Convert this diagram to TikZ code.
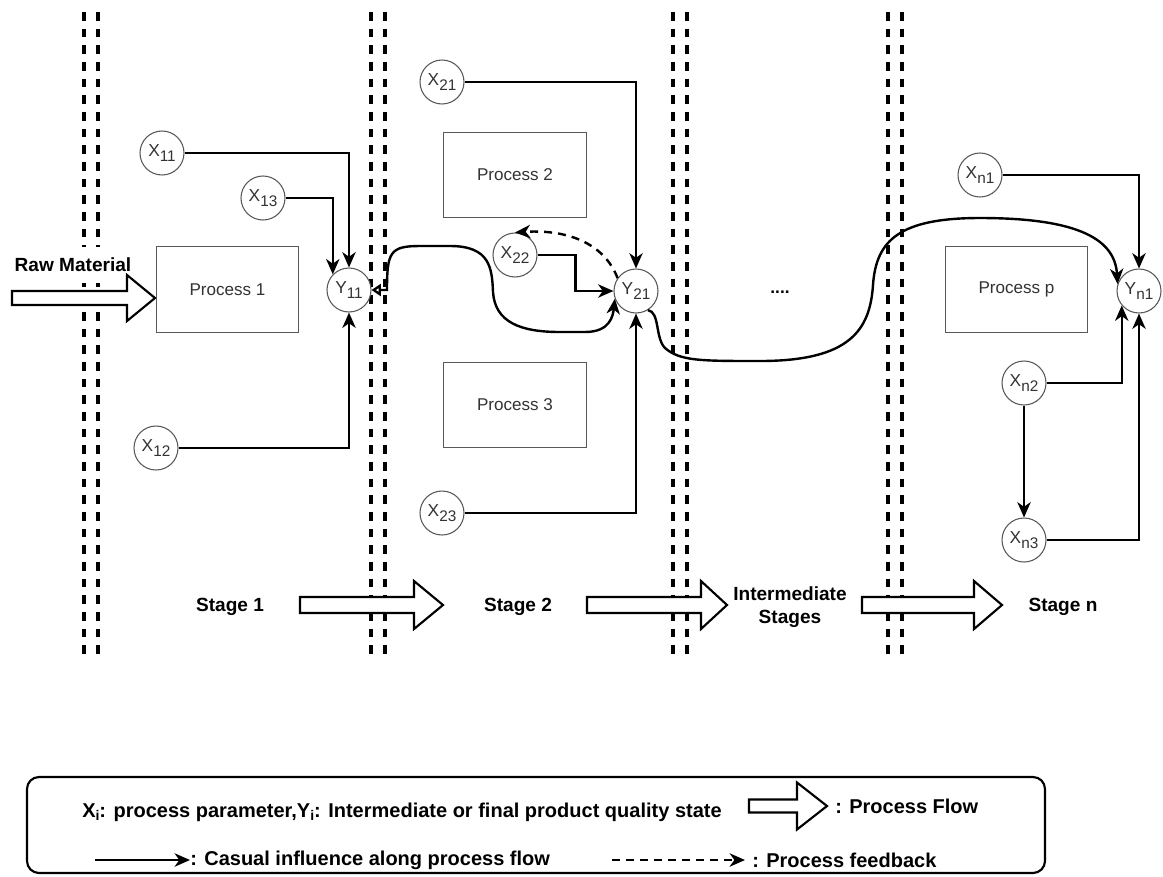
\documentclass[tikz,border=0pt]{standalone}
\usepackage{fontspec}
\setmainfont{Liberation Sans}
\usetikzlibrary{arrows.meta}
\newcommand\sbx[2]{#1\raisebox{-3.5pt}{\fontsize{11.5}{11.5}\selectfont #2}}
\newcommand\lsub[1]{\raisebox{-2.5pt}{\fontsize{10.5}{10.5}\selectfont #1}}
\newcommand\fatarrow[6]{\draw[fatarr] ({#1},{#4-#5}) -- ({#2},{#4-#5}) -- ({#2},{#4-#6}) -- ({#3},{#4}) -- ({#2},{#4+#6}) -- ({#2},{#4+#5}) -- ({#1},{#4+#5}) -- cycle;}
\begin{document}
\begin{tikzpicture}[x=0.75pt,y=-0.75pt,
 sepline/.style={line width=2.8pt, dash pattern=on 6.5pt off 6pt},
 var/.style={circle, draw=black!65, line width=0.8pt, minimum size=33pt, inner sep=0pt, font=\fontsize{13}{13}\selectfont, text=black!80, fill=white},
 proc/.style={draw=black!65, line width=0.8pt, minimum width=107pt, minimum height=64pt, font=\fontsize{12.8}{14}\selectfont, text=black!80},
 tip/.style={-{Stealth[length=11.5pt,width=10pt,inset=3.5pt]}},
 conn/.style={line width=1.8pt, tip},
 fb/.style={conn, dash pattern=on 6pt off 4.5pt},
 fatarr/.style={draw=black, line width=1.6pt, fill=white, line join=miter},
 stage/.style={font=\bfseries\fontsize{14.3}{17}\selectfont, align=center},
 legend/.style={font=\bfseries\fontsize{15}{17}\selectfont, inner sep=0pt}
]
\fill[white] (0,0) rectangle (1163,876);
\useasboundingbox (0,0) rectangle (1163,876);

% stage separators
\foreach \sx in {84,98,371,385,673,687,888,902}
  \draw[sepline] (\sx,12) -- (\sx,660);

% raw material input
\node[fill=white, font=\bfseries\fontsize{14.3}{17}\selectfont, minimum height=27pt, inner xsep=1pt] (raw) at (73,265) {Raw Material};
\fatarrow{12}{127}{155}{298}{7}{23}

% process boxes
\node[proc] (P1) at (227.5,289.5) {Process 1};
\node[proc] (P2) at (515,175) {Process 2};
\node[proc] (P3) at (515,405) {Process 3};
\node[proc] (Pp) at (1016.5,289.5) {Process p};
\node[font=\bfseries\fontsize{13}{13}\selectfont] (dots) at (780,292) {....};

% variables
\node[var] (X11) at (162,153) {\sbx{X}{11}};
\node[var] (X13) at (263,198) {\sbx{X}{13}};
\node[var] (X12) at (156,448) {\sbx{X}{12}};
\node[var] (Y11) at (349,290) {\sbx{Y}{11}};
\node[var] (X21) at (442,82) {\sbx{X}{21}};
\node[var] (X22) at (515,255) {\sbx{X}{22}};
\node[var] (X23) at (442,513) {\sbx{X}{23}};
\node[var] (Y21) at (636,291) {\sbx{Y}{21}};
\node[var] (Xn1) at (980,175) {\sbx{X}{n1}};
\node[var] (Xn2) at (1024,383) {\sbx{X}{n2}};
\node[var] (Xn3) at (1024,540) {\sbx{X}{n3}};
\node[var] (Yn1) at (1139,291) {\sbx{Y}{n1}};

% causal influences
\draw[conn] (X11.east) -| (Y11.north);
\draw[conn] (X13.east) -| (Y11.136);
\draw[conn] (X12.east) -| (Y11.south);
\draw[conn] (X21.east) -| (Y21.north);
\draw[conn] (X22.east) -- ++(38,0) |- (Y21.west);
\draw[conn] (X23.east) -| (Y21.south);
\draw[conn] (Xn1.east) -| (Yn1.north);
\draw[conn] (Xn2.east) -| (Yn1.-140);
\draw[conn] (Xn3.east) -| (Yn1.south);
\draw[conn] (Xn2.south) -- (Xn3.north);

% stage-to-stage influences
\draw[line width=1.8pt, {Triangle[open,length=7pt,width=9pt]}-{Stealth[length=11.5pt,width=10pt,inset=3.5pt]}]
  (Y11.east) -- (387,290) .. controls (387,252) and (390,246) .. (420,246) -- (450,246)
  .. controls (490,246) and (492,268) .. (493,292) .. controls (495,322) and (520,332) .. (560,332)
  -- (585,332) .. controls (610,332) and (613,316) .. (Y21.-160);
\draw[conn] (Y21.-58) .. controls (660,312) and (655,338) .. (665,348)
  .. controls (680,361) and (700,361) .. (760,361) .. controls (850,361) and (870,330) .. (873,285)
  .. controls (876,240) and (900,218) .. (980,218) .. controls (1080,218) and (1115,240) .. (Yn1.162);
\draw[fb] (Y21.145) .. controls (605,245) and (570,229) .. (X22.north);

% stage flow
\node[stage] (S1) at (230,607) {Stage 1};
\node[stage] (S2) at (518,607) {Stage 2};
\node[stage] (SI) at (790,607) {Intermediate\\Stages};
\node[stage] (Sn) at (1063,607) {Stage n};
\fatarrow{300}{414}{443}{605}{8}{24}
\fatarrow{587}{701}{727}{605}{8}{24}
\fatarrow{862}{974}{1002}{605}{8}{24}

% legend
\draw[line width=1.6pt, rounded corners=9pt] (27,777) rectangle (1045,873);
\node[legend, anchor=west] (L1) at (82,812) {X\lsub{i}: process parameter,Y\lsub{i}: Intermediate or final product quality state};
\fatarrow{749}{797}{827}{806}{6.5}{23.5}
\node[legend, anchor=west] (L2) at (835,806) {: Process Flow};
\coordinate (la) at (95,860);
\coordinate (lb) at (190,860);
\draw[conn] (la) -- (lb);
\node[legend, anchor=west] (L3) at (190,860) {: Casual influence along process flow};
\coordinate (lc) at (612,860);
\coordinate (ld) at (745,860);
\draw[fb] (lc) -- (ld);
\node[legend, anchor=west] (L4) at (752,860) {: Process feedback};
\end{tikzpicture}
\end{document}
